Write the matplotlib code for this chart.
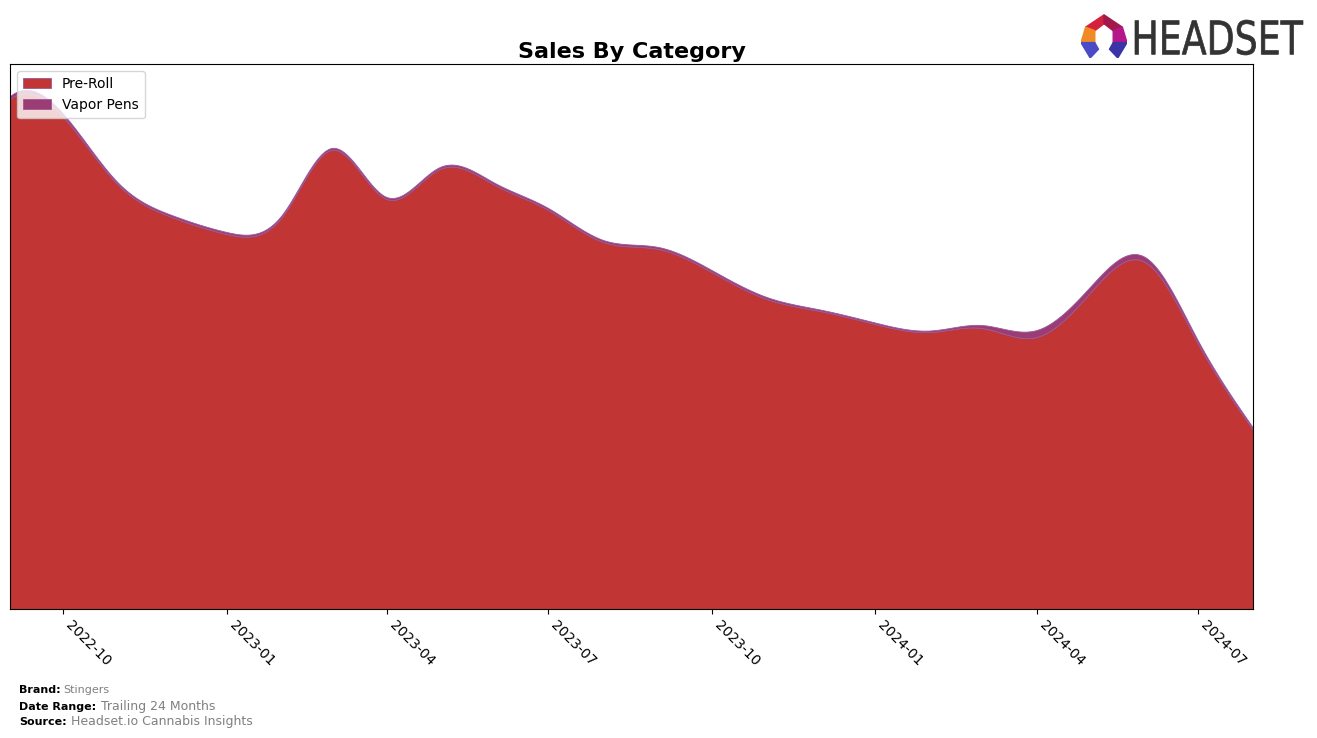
import matplotlib
matplotlib.use("Agg")
import matplotlib.pyplot as plt
import matplotlib.dates as mdates
from matplotlib.patches import Polygon, PathPatch
from matplotlib.textpath import TextPath
from matplotlib.font_manager import FontProperties
from matplotlib.transforms import Affine2D, IdentityTransform
import numpy as np
import pandas as pd

# monthly sales (arbitrary units)
months = pd.date_range("2022-09-01", "2024-08-01", freq="MS")
pre_roll = [510, 492, 424, 392, 375, 392, 459, 410, 440, 424, 399, 367,
            360, 337, 310, 298, 285, 277, 281, 272, 316, 347, 265, 179]
vapor_pens = [3, 3, 2, 2, 2, 2, 2, 2, 2, 2, 2, 2,
              2, 2, 2, 1.5, 1.5, 1.5, 3, 7, 6, 5, 3, 2]
categories = ["Pre-Roll", "Vapor Pens"]
colors = ["#c13535", "#9b3c74"]


def spline(x, y, xs):
    # cubic spline: not-a-knot at the start, natural at the end
    x = np.asarray(x, float)
    y = np.asarray(y, float)
    n = len(x)
    h = np.diff(x)
    A = np.zeros((n, n))
    b = np.zeros(n)
    A[0, 0], A[0, 1], A[0, 2] = h[1], -(h[0] + h[1]), h[0]
    A[-1, -1] = 1
    for i in range(1, n - 1):
        A[i, i - 1] = h[i - 1]
        A[i, i] = 2 * (h[i - 1] + h[i])
        A[i, i + 1] = h[i]
        b[i] = 3 * ((y[i + 1] - y[i]) / h[i] - (y[i] - y[i - 1]) / h[i - 1])
    c = np.linalg.solve(A, b)
    idx = np.clip(np.searchsorted(x, xs) - 1, 0, n - 2)
    dx = xs - x[idx]
    bb = (y[idx + 1] - y[idx]) / h[idx] - h[idx] * (2 * c[idx] + c[idx + 1]) / 3
    dd = (c[idx + 1] - c[idx]) / (3 * h[idx])
    return y[idx] + bb * dx + c[idx] * dx ** 2 + dd * dx ** 3


xnum = mdates.date2num(months)
xs = np.linspace(xnum[0], xnum[-1], 600)
ys = [np.clip(spline(xnum, s, xs), 0, None) for s in (pre_roll, vapor_pens)]

fig = plt.figure(figsize=(13.17, 7.38), dpi=100)
ax = fig.add_axes([0.0076, 0.1748, 0.944, 0.7385])

ax.stackplot(mdates.num2date(xs), ys[0], ys[1], labels=categories, colors=colors,
             edgecolor="#9a5a9a", linewidth=0.6)
ax.set_xlim(months[0], months[-1])
ax.set_ylim(0, 545)
ax.set_yticks([])
ax.xaxis.set_major_locator(mdates.MonthLocator(bymonth=[1, 4, 7, 10]))
ax.xaxis.set_major_formatter(mdates.DateFormatter("%Y-%m"))
plt.setp(ax.get_xticklabels(), rotation=-45, ha="left", fontsize=10)
ax.set_title("Sales By Category", fontsize=16, fontweight="bold", pad=4)
ax.legend(loc="upper left", fontsize=10, handlelength=2, borderpad=0.45)

# footer
fig.text(0.0144, 0.061, "Brand:", fontsize=8, fontweight="bold")
fig.text(0.048, 0.061, "Stingers", fontsize=8, color="gray")
fig.text(0.0144, 0.038, "Date Range:", fontsize=8, fontweight="bold")
fig.text(0.077, 0.038, "Trailing 24 Months", fontsize=9, color="gray")
fig.text(0.0144, 0.017, "Source:", fontsize=8, fontweight="bold")
fig.text(0.054, 0.017, "Headset.io Cannabis Insights", fontsize=9, color="gray")

# logo icon
lax = fig.add_axes([1081 / 1317, 1 - 58 / 738, 46 / 1317, 44 / 738])
lax.set_xlim(0, 1)
lax.set_ylim(0, 1)
lax.axis("off")
pieces = [
    ([(0.1, 0.7), (0.5, 0.98), (0.5, 0.78), (0.3, 0.62)], "#d4213d"),
    ([(0.5, 0.98), (0.9, 0.7), (0.7, 0.62), (0.5, 0.78)], "#a3184a"),
    ([(0.1, 0.7), (0.3, 0.62), (0.3, 0.35), (0.0, 0.35)], "#f08a24"),
    ([(0.9, 0.7), (1.0, 0.35), (0.7, 0.35), (0.7, 0.62)], "#b5178a"),
    ([(0.0, 0.35), (0.3, 0.35), (0.38, 0.2), (0.2, 0.0)], "#4b4bc8"),
    ([(1.0, 0.35), (0.7, 0.35), (0.62, 0.2), (0.8, 0.0)], "#3a34a8"),
]
for pts, c in pieces:
    lax.add_patch(Polygon(pts, closed=True, color=c))

# logo word, squeezed to the narrow look of the original
tp = TextPath((0, 0), "HEADSET", size=1, prop=FontProperties(family="DejaVu Sans"))
ext = tp.get_extents()
word = Affine2D().translate(-ext.x0, -ext.y0).scale(168 / ext.width, 35 / ext.height) \
    .translate(1135, 738 - 55).transform_path(tp)
fig.add_artist(PathPatch(word, transform=IdentityTransform(), color="#333333", lw=0.5))

fig.savefig("out.png", dpi=100)
